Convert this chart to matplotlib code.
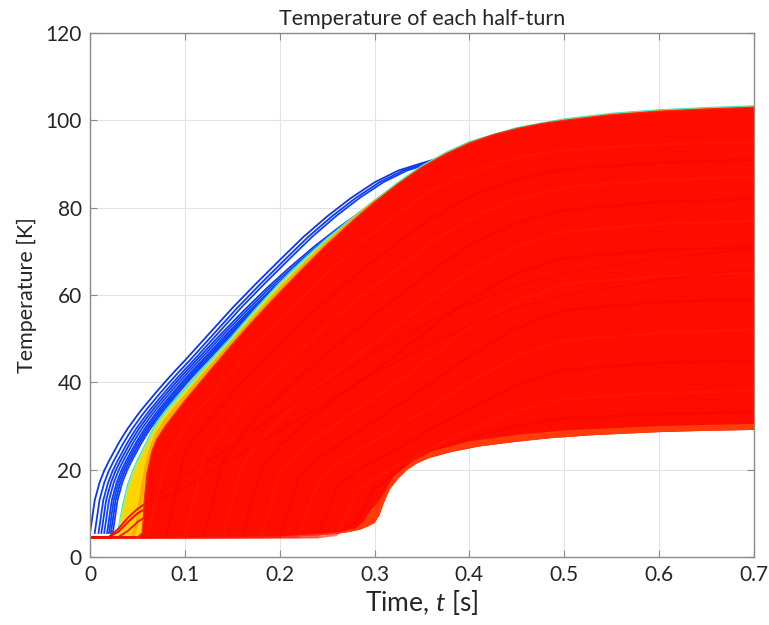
import numpy as np
import matplotlib
matplotlib.use("Agg")
import matplotlib.pyplot as plt

plt.rcParams["font.family"] = ["Lato", "DejaVu Sans"]
plt.rcParams["mathtext.fontset"] = "custom"
plt.rcParams["mathtext.rm"] = "Lato"
plt.rcParams["mathtext.it"] = "Lato:italic"

# ── Data ─────────────────────────────────────────────────────────────────────
# shared time grid for the early-onset (coloured) curves
t_early = [0, 0.005, 0.01, 0.015, 0.02, 0.025, 0.03, 0.035, 0.04, 0.045, 0.05,
           0.055, 0.06, 0.065, 0.07, 0.08, 0.09, 0.1, 0.125, 0.15, 0.175, 0.2,
           0.225, 0.25, 0.275, 0.3, 0.325, 0.35, 0.375, 0.4, 0.45, 0.5, 0.55,
           0.6, 0.65, 0.7]

# traced shapes of the blue half-turns (first ones / later ones) and their onset delays
blue_fast = [5.5, 13, 17, 19.8, 22, 24, 26, 27.8, 29.5, 31, 32.5, 33.9, 35.2,
             36.5, 37.8, 40.3, 42.7, 45, 51, 57, 62.6, 68, 73.3, 78, 82.2, 85.8,
             88.5, 90.2, 91.8, 93.5, 96.5, 98.8, 100.3, 101.2, 101.8, 102.2]
blue_slow = [5.5, 13, 17, 19.8, 22, 24, 26, 27.8, 29.5, 31, 32.5, 33.9, 35.2,
             36.5, 37.8, 40.3, 42.7, 45, 50.8, 56.4, 61.7, 66.6, 71.2, 75.4, 79.3,
             82.8, 85.8, 88.3, 90.3, 92, 95, 97.5, 99.3, 100.5, 101.3, 101.8]
blue_delays = [0.0, 0.005, 0.009, 0.012, 0.015, 0.018, 0.020, 0.022, 0.024]
blue_shape = ["fast", "fast", "fast", "slow", "slow", "slow", "slow", "slow", "slow"]
blue_colors = ["#0a36f0", "#0c3cf2", "#0e40f4", "#0a3af0", "#1044f5",
               "#0d3ef2", "#1042f4", "#0b3cf0", "#1246f5"]

cyan_T = [4.5, 4.5, 4.5, 4.5, 4.5, 4.5, 6, 12, 16.5, 19.5, 22, 24.2, 26.3, 28.5,
          30.6, 33.5, 36, 38.4, 44.5, 50.5, 56.8, 62.7, 68, 72.9, 77.3, 81.6, 85.7,
          89.5, 92.5, 95, 98.2, 100.2, 101.5, 102.3, 102.8, 103.2]
green_T = [4.5, 4.5, 4.5, 4.5, 4.5, 4.5, 5.2, 10.5, 15.2, 18.6, 21.2, 23.5, 25.6,
           27.7, 29.8, 32.8, 35.3, 37.8, 43.9, 49.9, 56.2, 62.2, 67.5, 72.4, 76.9,
           81.3, 85.4, 89.2, 92.2, 94.7, 97.9, 99.9, 101.2, 102, 102.5, 102.9]

orange_t = [0.045, 0.05, 0.055, 0.06, 0.065, 0.07, 0.08, 0.09, 0.1, 0.125, 0.15,
            0.175, 0.2, 0.225, 0.25, 0.275, 0.3]
orange_T = [4.6, 8, 15.5, 21.5, 25.2, 27.8, 31.3, 34, 36.6, 43, 49.2, 55.3, 61.2,
            66.7, 72, 76.8, 81.3]

# upper / lower edges of the red bundle
red_top_t = [0.05, 0.055, 0.056, 0.057, 0.06, 0.065, 0.07, 0.08, 0.1, 0.125, 0.15,
             0.175, 0.2, 0.225, 0.25, 0.275, 0.3, 0.325, 0.35, 0.375, 0.4, 0.425,
             0.45, 0.475, 0.5, 0.55, 0.6, 0.65, 0.7]
red_top_T = [4.5, 5.5, 8, 12.5, 19, 24, 26.8, 30.2, 35.8, 42.3, 48.7, 54.8, 60.6,
             66.2, 71.6, 76.6, 81.3, 85.5, 89.3, 92.3, 94.8, 96.7, 98.1, 99.2, 100,
             101.3, 102.1, 102.6, 103]
red_bot_t = [0.05, 0.1, 0.15, 0.2, 0.24, 0.26, 0.275, 0.285, 0.293, 0.3, 0.305,
             0.31, 0.316, 0.325, 0.334, 0.345, 0.358, 0.38, 0.41, 0.45, 0.485, 0.53,
             0.6, 0.65, 0.7]
red_bot_T = [4.5, 4.5, 4.55, 4.65, 4.9, 5.3, 5.8, 6.3, 7, 7.8, 9.5, 12.5, 15.5, 18,
             19.9, 21.5, 22.7, 24, 25.3, 26.4, 27.2, 27.9, 28.6, 28.9, 29.1]
late_t = [0.2, 0.26, 0.28, 0.288, 0.295, 0.305, 0.32, 0.34, 0.36, 0.4, 0.45, 0.5,
          0.6, 0.7]
late_T = [4.7, 5.6, 6.6, 8, 10.5, 13, 18.5, 22, 24.2, 26.5, 28, 29, 30, 30.5]

# a few of the half-turns inside the red bundle
stripe_t = [0, 0.06, 0.08, 0.1, 0.12, 0.14, 0.16, 0.18, 0.2, 0.22, 0.24, 0.26, 0.28,
            0.3, 0.33, 0.36, 0.4, 0.45, 0.5, 0.6, 0.7]
stripes = [
    [4.5, 4.5, 22, 30, 35, 40, 45, 49.5, 54, 58.5, 63, 67, 71, 74.5, 79.5, 84, 88, 91.5, 93.2, 94.5, 95],
    [4.5, 4.5, 4.6, 24, 30, 35, 40, 44.5, 49, 53, 57, 61, 64.5, 68, 73, 77.5, 82.5, 86.5, 88.8, 90.3, 91],
    [4.5, 4.5, 4.5, 4.6, 23, 29, 34, 38.5, 43, 47, 51, 55, 58.5, 62, 67, 72, 77.5, 82, 84.7, 86.3, 87],
    [4.5, 4.5, 4.5, 4.5, 4.6, 22, 28, 33, 37, 41, 45, 48.5, 52, 55.5, 60.5, 65.5, 71.5, 76.5, 79.5, 81.3, 82],
    [4.5, 4.5, 4.5, 4.5, 4.5, 4.6, 21, 27, 31.5, 35.5, 39, 42.5, 46, 49, 54, 59, 65.5, 71, 74.5, 76.3, 77],
    [4.5, 4.5, 4.5, 4.5, 4.5, 4.5, 4.6, 20, 25.5, 29.5, 33, 36.5, 39.5, 42.5, 47.5, 52.5, 59, 65, 68.5, 70.3, 71],
    [4.5, 4.5, 4.5, 4.5, 4.5, 4.5, 4.5, 4.6, 19, 24, 27.5, 30.5, 33.5, 36.5, 41, 46, 52.5, 58.5, 62.5, 64.3, 65],
    [4.5, 4.5, 4.5, 4.5, 4.5, 4.5, 4.5, 4.5, 4.6, 18, 22.5, 25.5, 28.5, 31, 35.5, 40, 46, 52.5, 56.5, 58.4, 59],
    [4.5, 4.5, 4.5, 4.5, 4.5, 4.5, 4.5, 4.5, 4.5, 4.6, 17, 21, 24, 26.5, 30.5, 34.5, 40, 46, 49.5, 51.4, 52],
    [4.5, 4.5, 4.5, 4.5, 4.5, 4.5, 4.5, 4.5, 4.5, 4.5, 4.7, 16, 19.5, 22, 25.5, 29.5, 34, 39.5, 42.8, 44.5, 45],
    [4.5, 4.5, 4.5, 4.5, 4.5, 4.5, 4.5, 4.5, 4.5, 4.5, 4.5, 5, 14.5, 18, 21.5, 25, 29, 33.5, 36.2, 37.6, 38],
    [4.5, 4.5, 4.5, 4.5, 4.5, 4.5, 4.5, 4.5, 4.5, 4.5, 4.5, 5.2, 8, 15.5, 20.5, 24, 27.3, 30, 31.8, 32.7, 33.2],
]
stripe_colors = ["#ff2200", "#f20000"]

# slowly heated half-turns crossing the bundle
diag_t = [0, 0.02, 0.03, 0.04, 0.05, 0.07, 0.1, 0.15, 0.2, 0.25, 0.3, 0.36, 0.4,
          0.45, 0.5, 0.6, 0.7]
diag_lines = [
    [4.5, 4.6, 6.5, 9, 11, 14, 18.5, 25.5, 33, 40, 47, 54, 58, 62, 65, 68.5, 70.5],
    [4.5, 4.6, 5.8, 8, 10, 12.5, 16, 22.5, 29, 35.5, 42, 49, 53, 57, 60, 63.5, 66],
    [4.5, 4.5, 4.6, 6, 8, 11, 14.5, 20, 26, 32, 38, 45, 49, 53, 56, 59.5, 62],
]

# ── Plot ─────────────────────────────────────────────────────────────────────
fig = plt.figure(figsize=(7.69, 6.25), dpi=100)
ax = fig.add_axes([90 / 769, 68 / 625, 664 / 769, 524 / 625])

t_early = np.array(t_early)
profiles = {"fast": blue_fast, "slow": blue_slow}
for d, s, c in zip(blue_delays, blue_shape, blue_colors):
    ax.plot(t_early + d, profiles[s], color=c, lw=1.3, zorder=2)

ax.plot(t_early, cyan_T, color="#3fe0d0", lw=1.6, zorder=3)
ax.plot(t_early, green_T, color="#a8f060", lw=2.2, zorder=3)

# yellow band between the green curve and the red bundle
ax.fill(np.concatenate([t_early, red_top_t[::-1]]),
        np.concatenate([green_T, red_top_T[::-1]]),
        color="#ffd400", lw=0, zorder=3)
ax.plot(orange_t, orange_T, color="#ffaa00", lw=2.5, zorder=4)

for T in diag_lines:
    ax.plot(diag_t, T, color="#ff1000", lw=1.3, zorder=4)

# red bundle
ax.fill(red_top_t + red_bot_t[::-1], red_top_T + red_bot_T[::-1],
        color="#fe0c00", lw=0, zorder=5)
for i, T in enumerate(stripes):
    ax.plot(stripe_t, T, color=stripe_colors[i % 2], lw=1.6, alpha=0.35, zorder=6)
for T in diag_lines[:2]:
    ax.plot(diag_t, T, color="#f00000", lw=1.0, alpha=0.35, zorder=6)
ax.plot(red_top_t, red_top_T, color="#ff2800", lw=1.0, zorder=6)
ax.fill(red_bot_t + late_t[::-1], red_bot_T + late_T[::-1],
        color="#ff3c0a", lw=0, zorder=7)

ax.set_xlim(0, 0.7)
ax.set_ylim(0, 120)
ax.set_xticks(np.arange(0, 0.71, 0.1))
ax.set_xticklabels(["0", "0.1", "0.2", "0.3", "0.4", "0.5", "0.6", "0.7"])
ax.set_yticks(range(0, 121, 20))
ax.grid(True, color="#e3e3e3", lw=0.8, zorder=0)
ax.set_axisbelow(True)
ax.tick_params(direction="in", length=5, width=0.8, colors="#8a8a8a",
               labelcolor="#262626", labelsize=15, top=True, right=True, pad=6)
for s in ax.spines.values():
    s.set_color("#8a8a8a")
    s.set_linewidth(1.0)
    s.set_zorder(10)

ax.set_title("Temperature of each half-turn", fontsize=15.5, color="#262626", pad=6)
ax.set_xlabel("Time, $t$ [s]", fontsize=19, color="#262626", labelpad=2)
ax.set_ylabel("Temperature [K]", fontsize=15.5, color="#262626", labelpad=6)

fig.savefig("out.png", dpi=100)
